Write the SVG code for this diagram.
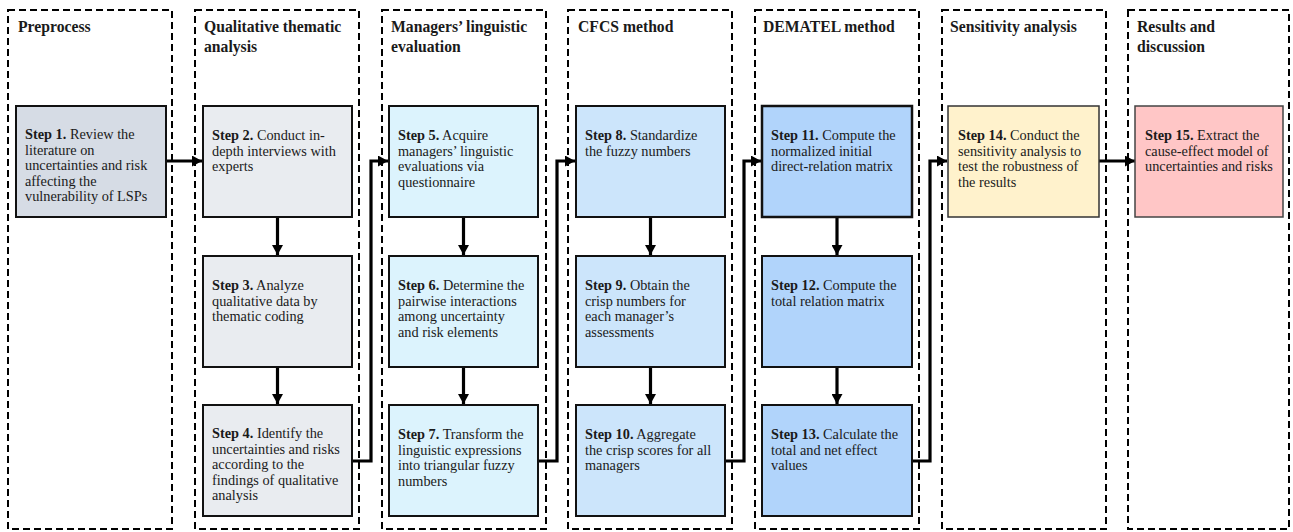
<svg xmlns="http://www.w3.org/2000/svg" width="1293" height="532" viewBox="0 0 1293 532">
<style>
.col{fill:none;stroke:#000;stroke-width:2;stroke-dasharray:7 4}
.hd{font-family:"Liberation Serif","Times New Roman",serif;font-weight:bold;font-size:15.7px;fill:#1a1a1a}
.bx{stroke:#111;stroke-width:2}
.tx{font-family:"Liberation Serif","Times New Roman",serif;font-size:14.3px;fill:#1a1a1a}
.tx tspan.b{font-weight:bold}
.c1{fill:#d6dce5}.c2{fill:#e9ecf0}.c3{fill:#dcf3fd}.c4{fill:#cce5fb}.c5{fill:#b1d4fb}
.c6{fill:#fff2cc;stroke:#333;stroke-width:1.5}.c7{fill:#ffc6c6;stroke:#444;stroke-width:1.5}
.cn{fill:none;stroke:#000;stroke-width:3.2;marker-end:url(#ah)}
</style>
<defs>
<marker id="ah" markerUnits="userSpaceOnUse" markerWidth="11" markerHeight="11" refX="10" refY="5.5" orient="auto">
<path d="M0,0 L10,5.5 L0,11 z" fill="#000"/>
</marker>
</defs>
<rect width="1293" height="532" fill="#fff"/>
<g id="columns">
<g id="col1"><rect class="col" x="8" y="10" width="164" height="519"/><text class="hd" x="18" y="32">Preprocess</text></g>
<g id="col2"><rect class="col" x="195" y="10" width="164" height="519"/><text class="hd" x="204" y="32">Qualitative thematic<tspan x="204" dy="19.5">analysis</tspan></text></g>
<g id="col3"><rect class="col" x="382" y="10" width="164" height="519"/><text class="hd" x="391" y="32">Managers’ linguistic<tspan x="391" dy="19.5">evaluation</tspan></text></g>
<g id="col4"><rect class="col" x="568" y="10" width="164" height="519"/><text class="hd" x="578" y="32">CFCS method</text></g>
<g id="col5"><rect class="col" x="755" y="10" width="164" height="519"/><text class="hd" x="763" y="32">DEMATEL method</text></g>
<g id="col6"><rect class="col" x="942" y="10" width="164" height="519"/><text class="hd" x="950" y="32">Sensitivity analysis</text></g>
<g id="col7"><rect class="col" x="1128" y="10" width="161" height="519"/><text class="hd" x="1137" y="32">Results and<tspan x="1137" dy="19.5">discussion</tspan></text></g>
</g>
<g id="connectors">
<path class="cn" d="M166 161 H202"/>
<path class="cn" d="M277.5 217 V255"/>
<path class="cn" d="M277.5 367 V404"/>
<path class="cn" d="M352 461 H371 V161 H388"/>
<path class="cn" d="M463.5 217 V255"/>
<path class="cn" d="M463.5 367 V404"/>
<path class="cn" d="M538 461 H557 V161 H575"/>
<path class="cn" d="M650.5 217 V255"/>
<path class="cn" d="M650.5 367 V404"/>
<path class="cn" d="M725 461 H744 V161 H761"/>
<path class="cn" d="M837 217 V255"/>
<path class="cn" d="M837 367 V404"/>
<path class="cn" d="M912 461 H930 V161 H947"/>
<path class="cn" d="M1099 161 H1135"/>
</g>
<g id="step1"><rect class="bx c1" x="16" y="106" width="150" height="111"/><text class="tx" x="25" y="139"><tspan class="b">Step 1.</tspan> Review the<tspan x="25" dy="15.5">literature on</tspan><tspan x="25" dy="15.5">uncertainties and risk</tspan><tspan x="25" dy="15.5">affecting the</tspan><tspan x="25" dy="15.5">vulnerability of LSPs</tspan></text></g>
<g id="step2"><rect class="bx c2" x="203" y="106" width="149" height="111"/><text class="tx" x="212" y="140"><tspan class="b">Step 2.</tspan> Conduct in-<tspan x="212" dy="15.5">depth interviews with</tspan><tspan x="212" dy="15.5">experts</tspan></text></g>
<g id="step3"><rect class="bx c2" x="203" y="256" width="149" height="111"/><text class="tx" x="212" y="290"><tspan class="b">Step 3.</tspan> Analyze<tspan x="212" dy="15.5">qualitative data by</tspan><tspan x="212" dy="15.5">thematic coding</tspan></text></g>
<g id="step4"><rect class="bx c2" x="203" y="405" width="149" height="111"/><text class="tx" x="212" y="438"><tspan class="b">Step 4.</tspan> Identify the<tspan x="212" dy="15.5">uncertainties and risks</tspan><tspan x="212" dy="15.5">according to the</tspan><tspan x="212" dy="15.5">findings of qualitative</tspan><tspan x="212" dy="15.5">analysis</tspan></text></g>
<g id="step5"><rect class="bx c3" x="389" y="106" width="149" height="111"/><text class="tx" x="398" y="140"><tspan class="b">Step 5.</tspan> Acquire<tspan x="398" dy="15.5">managers’ linguistic</tspan><tspan x="398" dy="15.5">evaluations via</tspan><tspan x="398" dy="15.5">questionnaire</tspan></text></g>
<g id="step6"><rect class="bx c3" x="389" y="256" width="149" height="111"/><text class="tx" x="398" y="290"><tspan class="b">Step 6.</tspan> Determine the<tspan x="398" dy="15.5">pairwise interactions</tspan><tspan x="398" dy="15.5">among uncertainty</tspan><tspan x="398" dy="15.5">and risk elements</tspan></text></g>
<g id="step7"><rect class="bx c3" x="389" y="405" width="149" height="111"/><text class="tx" x="398" y="439"><tspan class="b">Step 7.</tspan> Transform the<tspan x="398" dy="15.5">linguistic expressions</tspan><tspan x="398" dy="15.5">into triangular fuzzy</tspan><tspan x="398" dy="15.5">numbers</tspan></text></g>
<g id="step8"><rect class="bx c4" x="576" y="106" width="149" height="111"/><text class="tx" x="585" y="140"><tspan class="b">Step 8.</tspan> Standardize<tspan x="585" dy="15.5">the fuzzy numbers</tspan></text></g>
<g id="step9"><rect class="bx c4" x="576" y="256" width="149" height="111"/><text class="tx" x="585" y="290"><tspan class="b">Step 9.</tspan> Obtain the<tspan x="585" dy="15.5">crisp numbers for</tspan><tspan x="585" dy="15.5">each manager’s</tspan><tspan x="585" dy="15.5">assessments</tspan></text></g>
<g id="step10"><rect class="bx c4" x="576" y="405" width="149" height="111"/><text class="tx" x="585" y="439"><tspan class="b">Step 10.</tspan> Aggregate<tspan x="585" dy="15.5">the crisp scores for all</tspan><tspan x="585" dy="15.5">managers</tspan></text></g>
<g id="step11"><rect class="bx c5" x="762" y="106" width="150" height="111" style="stroke-width:2.5"/><text class="tx" x="771" y="140"><tspan class="b">Step 11.</tspan> Compute the<tspan x="771" dy="15.5">normalized initial</tspan><tspan x="771" dy="15.5">direct-relation matrix</tspan></text></g>
<g id="step12"><rect class="bx c5" x="762" y="256" width="150" height="111"/><text class="tx" x="771" y="290"><tspan class="b">Step 12.</tspan> Compute the<tspan x="771" dy="15.5">total relation matrix</tspan></text></g>
<g id="step13"><rect class="bx c5" x="762" y="405" width="150" height="111"/><text class="tx" x="771" y="439"><tspan class="b">Step 13.</tspan> Calculate the<tspan x="771" dy="15.5">total and net effect</tspan><tspan x="771" dy="15.5">values</tspan></text></g>
<g id="step14"><rect class="c6" x="948" y="106" width="151" height="111"/><text class="tx" x="958" y="140"><tspan class="b">Step 14.</tspan> Conduct the<tspan x="958" dy="15.5">sensitivity analysis to</tspan><tspan x="958" dy="15.5">test the robustness of</tspan><tspan x="958" dy="15.5">the results</tspan></text></g>
<g id="step15"><rect class="c7" x="1135" y="106" width="148" height="111"/><text class="tx" x="1145" y="140"><tspan class="b">Step 15.</tspan> Extract the<tspan x="1145" dy="15.5">cause-effect model of</tspan><tspan x="1145" dy="15.5">uncertainties and risks</tspan></text></g>
</svg>
